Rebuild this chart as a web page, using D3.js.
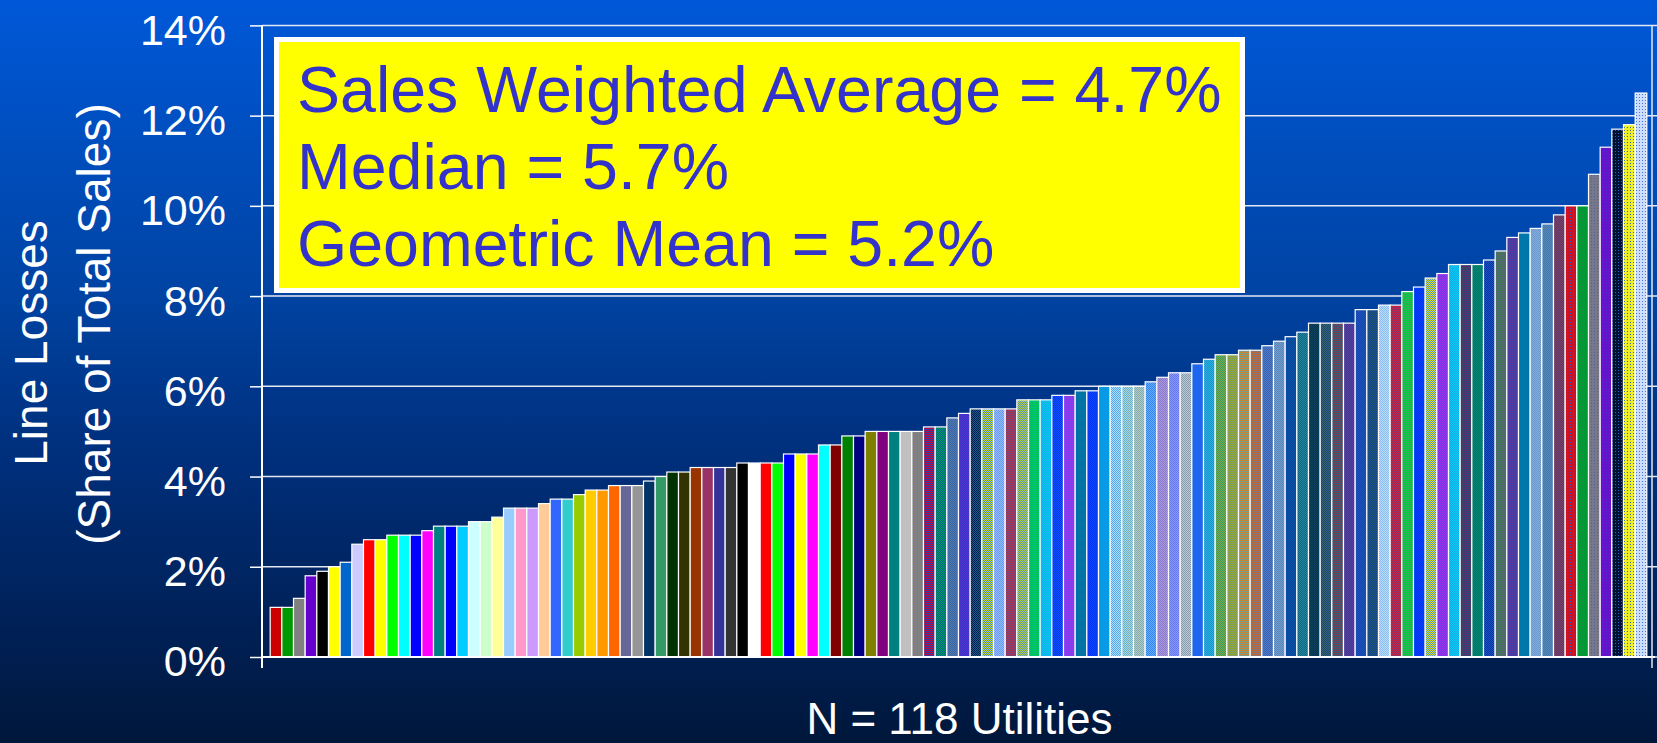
<!DOCTYPE html>
<html>
<head>
<meta charset="utf-8">
<script src="https://cdn.jsdelivr.net/npm/d3@7/dist/d3.min.js"></script>
<style>
  html, body { margin: 0; padding: 0; background: #001a44; }
  svg { display: block; }
  text { font-family: "Liberation Sans", Arial, Helvetica, sans-serif; }
</style>
</head>
<body>
<svg id="chart" width="1657" height="743"></svg>
<script>
// Line losses by utility, sorted ascending (percent of total sales)
const lossValues = [
  1.1, 1.1, 1.3, 1.8, 1.9, 2.0, 2.1, 2.5, 2.6, 2.6, 2.7, 2.7, 2.7, 2.8, 2.9, 2.9, 2.9, 3.0, 3.0, 3.1,
  3.3, 3.3, 3.3, 3.4, 3.5, 3.5, 3.6, 3.7, 3.7, 3.8, 3.8, 3.8, 3.9, 4.0, 4.1, 4.1, 4.2, 4.2, 4.2, 4.2,
  4.3, 4.3, 4.3, 4.3, 4.5, 4.5, 4.5, 4.7, 4.7, 4.9, 4.9, 5.0, 5.0, 5.0, 5.0, 5.0, 5.1, 5.1, 5.3, 5.4,
  5.5, 5.5, 5.5, 5.5, 5.7, 5.7, 5.7, 5.8, 5.8, 5.9, 5.9, 6.0, 6.0, 6.0, 6.0, 6.1, 6.2, 6.3, 6.3, 6.5,
  6.6, 6.7, 6.7, 6.8, 6.8, 6.9, 7.0, 7.1, 7.2, 7.4, 7.4, 7.4, 7.4, 7.7, 7.7, 7.8, 7.8, 8.1, 8.2, 8.4,
  8.5, 8.7, 8.7, 8.7, 8.8, 9.0, 9.3, 9.4, 9.5, 9.6, 9.8, 10.0, 10.0, 10.7, 11.3, 11.7, 11.8, 12.5
];
const utilities = lossValues.map((_, i) => "Utility " + (i + 1));

const yTicks = [0, 2, 4, 6, 8, 10, 12, 14];
const yTitleLines = ["Line Losses", "(Share of Total Sales)"];
const xTitle = "N = 118 Utilities";
const statLines = [
  "Sales Weighted Average = 4.7%",
  "Median = 5.7%",
  "Geometric Mean = 5.2%"
];

// Bar fills: main colour, second colour of the dither texture, and texture kind
const barColors = [
  "#cc0000","#009900","#808080","#6600cc","#000000","#ffff00","#0066cc","#ccccff","#ff0000","#ffff00",
  "#00ff00","#00ffff","#0000ff","#ff00ff","#008080","#0000ff","#00ccff","#ccffff","#ccffcc","#ffff99",
  "#99ccff","#ff99cc","#cc99ff","#ffcc99","#3366ff","#33cccc","#99cc00","#ffcc00","#ff9900","#ff6600",
  "#666699","#969696","#003366","#339966","#003300","#333300","#993300","#993366","#333399","#333333",
  "#000000","#ffffff","#ff0000","#00ff00","#0000ff","#ffff00","#ff00ff","#00ffff","#800000","#008000",
  "#000080","#808000","#800080","#008080","#c0c0c0","#808080",
  "#bb1144","#009966","#3366aa","#5533cc","#002050","#bbdd22","#6699ee","#aa3355","#aacc55","#00cc55",
  "#00ccee","#0033ff","#9933ee","#0077aa","#0033ee","#0099ee","#55aaee","#66aacc","#88aa99","#3388ee",
  "#8877cc","#6677ee","#8899aa","#1a66ee","#1199cc","#449955","#99aa33","#cc8833","#bb6633","#3366bb",
  "#5588bb","#0055aa","#228899","#114455","#224466","#774455","#554499","#2255bb","#225577","#88bbee",
  "#cc2244","#00cc44","#0033ff","#ccdd33","#9933ee","#00ccff","#553366","#007766","#0033aa","#447755",
  "#553399","#0077aa","#6699cc","#4477aa","#774466","#cc1122","#009933","#777788","#6611cc","#001133",
  "#eeee22","#ccddff"
];
const barAccents = Array(56).fill(null).concat([
  "#333399","#006688","#5577aa","#3333cc","#225588","#5588bb","#99bbff","#774477","#669999","#00bb77",
  "#11aaee","#1155ee","#7744ee","#0070a0","#1144ff","#1199dd","#aaddff","#aadddd","#aaccdd","#66aaff",
  "#aa99dd","#8899ff","#bbccdd","#2266ee","#33aadd","#77aa55","#779966","#779988","#887777","#5577bb",
  "#7799cc","#114499","#116688","#003355","#336677","#335577","#443399","#1144aa","#114488","#bbddff",
  "#883366","#33aa55","#0044ee","#6699aa","#7733dd","#11aadd","#334477","#008877","#2255bb","#556677",
  "#4444aa","#0077aa","#88aadd","#5588bb","#663366","#3355cc","#118844","#4466aa","#4433bb","#2266cc",
  "#3366aa","#4477dd"
]);
// s = solid, c = checker dither, d = sparse dots
const barTextures = "s".repeat(56) + "c".repeat(55) + "d".repeat(7);

const W = 1657, H = 743;
const svg = d3.select("#chart");
const defs = svg.append("defs");

// Background gradient
const bg = defs.append("linearGradient")
  .attr("id", "bg").attr("x1", 0).attr("y1", 0).attr("x2", 0).attr("y2", 1);
[[0, "#0058d8"], [0.4, "#0043a2"], [0.6, "#00307e"], [0.88, "#001e50"], [1, "#00173a"]]
  .forEach(([o, c]) => bg.append("stop").attr("offset", o).attr("stop-color", c));
svg.append("rect").attr("width", W).attr("height", H).attr("fill", "url(#bg)");

// Scales
const x = d3.scaleBand()
  .domain(utilities)
  .range([262, 1655])
  .paddingInner(0)
  .paddingOuter(0.7);
const y = d3.scaleLinear().domain([0, 14]).range([657, 25.4]);

// Textured fills
function fillFor(i) {
  const t = barTextures[i];
  if (t === "s") return barColors[i];
  const id = "tex" + i;
  if (t === "c") {
    const p = defs.append("pattern").attr("id", id)
      .attr("patternUnits", "userSpaceOnUse").attr("width", 2).attr("height", 2);
    p.append("rect").attr("width", 2).attr("height", 2).attr("fill", barColors[i]);
    p.append("rect").attr("x", 1).attr("y", 0).attr("width", 1).attr("height", 1).attr("fill", barAccents[i]);
    p.append("rect").attr("x", 0).attr("y", 1).attr("width", 1).attr("height", 1).attr("fill", barAccents[i]);
  } else {
    const p = defs.append("pattern").attr("id", id)
      .attr("patternUnits", "userSpaceOnUse").attr("width", 3).attr("height", 3);
    p.append("rect").attr("width", 3).attr("height", 3).attr("fill", barColors[i]);
    p.append("rect").attr("x", 1).attr("y", 1).attr("width", 1).attr("height", 1).attr("fill", barAccents[i]);
  }
  return "url(#" + id + ")";
}

// Gridlines
svg.append("g").selectAll("line").data(yTicks).join("line")
  .attr("x1", 262).attr("x2", W)
  .attr("y1", d => y(d)).attr("y2", d => y(d))
  .attr("stroke", "#e4e8f2").attr("stroke-width", 1.5);

// Y axis with ticks and labels
const yAxis = d3.axisLeft(y)
  .tickValues(yTicks)
  .tickFormat(d => d + "%")
  .tickSize(12)
  .tickPadding(24);
const gy = svg.append("g").attr("transform", "translate(262,0)").call(yAxis);
gy.select(".domain").remove();
gy.selectAll(".tick line").attr("stroke", "#ffffff").attr("stroke-width", 1.5);
gy.selectAll(".tick text")
  .attr("fill", "#ffffff")
  .attr("font-size", 43)
  .attr("font-family", "'Liberation Sans', Arial, sans-serif")
  .attr("dy", "0.44em");

// Bars
svg.append("g").selectAll("rect").data(lossValues).join("rect")
  .attr("x", (d, i) => x(utilities[i]))
  .attr("width", x.bandwidth())
  .attr("y", d => y(d))
  .attr("height", d => y(0) - y(d))
  .attr("fill", (d, i) => fillFor(i))
  .attr("stroke", "#ffffff")
  .attr("stroke-width", 1.2);

// Axis lines and right frame
svg.append("line").attr("x1", 262).attr("x2", 262).attr("y1", y(14)).attr("y2", y(0) + 11)
  .attr("stroke", "#ffffff").attr("stroke-width", 2);
svg.append("line").attr("x1", 262).attr("x2", 1655).attr("y1", y(0)).attr("y2", y(0))
  .attr("stroke", "#ffffff").attr("stroke-width", 2.2);
svg.append("line").attr("x1", 1652).attr("x2", 1652).attr("y1", y(14)).attr("y2", y(0) + 11)
  .attr("stroke", "#e4e8f2").attr("stroke-width", 1.5);

// Axis titles
svg.append("text")
  .attr("transform", "translate(47,343) rotate(-90)")
  .attr("text-anchor", "middle").attr("fill", "#ffffff").attr("font-size", 46)
  .text(yTitleLines[0]);
svg.append("text")
  .attr("transform", "translate(110,324) rotate(-90)")
  .attr("text-anchor", "middle").attr("fill", "#ffffff").attr("font-size", 46)
  .text(yTitleLines[1]);
svg.append("text")
  .attr("x", 959.5).attr("y", 734)
  .attr("text-anchor", "middle").attr("fill", "#ffffff").attr("font-size", 44)
  .text(xTitle);

// Summary statistics box
svg.append("rect")
  .attr("x", 276.5).attr("y", 39.5).attr("width", 966).attr("height", 251)
  .attr("fill", "#ffff00").attr("stroke", "#ffffff").attr("stroke-width", 5);
svg.append("g").selectAll("text").data(statLines).join("text")
  .attr("x", 297)
  .attr("y", (d, i) => 112 + i * 77)
  .attr("fill", "#3333cc")
  .attr("font-size", 64.5)
  .text(d => d);
</script>
</body>
</html>
